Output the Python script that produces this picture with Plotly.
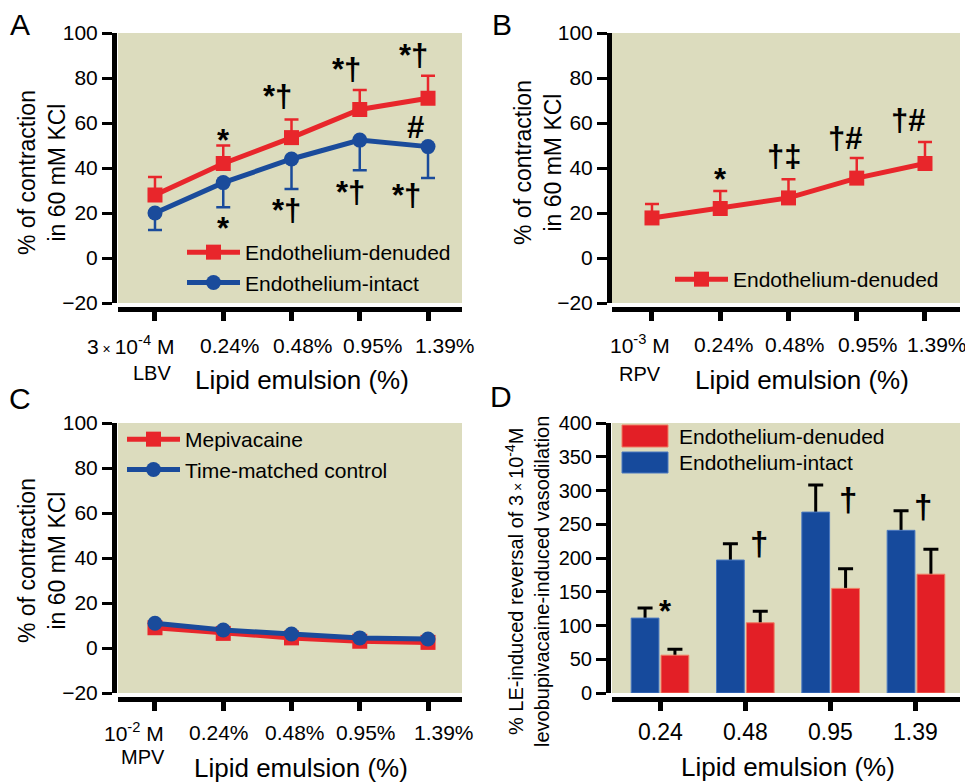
import plotly.graph_objects as go

W, H = 973, 782
OFF = 8  # page margin around the plot div
FONT = "Liberation Sans, Arial, sans-serif"
RED = "#e8262b"
BLUE = "#1a4b9b"
BG = "#dcdcbe"

# ---------------- data ----------------
A_cats = ["LBV 3x10-4 M", "0.24%", "0.48%", "0.95%", "1.39%"]
A_labels = ["3<span style='font-size:14px'> × </span>10<sup>-4</sup> M", "0.24%", "0.48%", "0.95%", "1.39%"]
A_denuded = [28, 42, 53.5, 66, 71]
A_denuded_err = [8, 8, 8, 8.7, 10]
A_intact = [20, 33.5, 44, 52.4, 49.5]
A_intact_err = [7.6, 11, 13.3, 13.4, 14]

B_cats = ["RPV 10-3 M", "0.24%", "0.48%", "0.95%", "1.39%"]
B_labels = ["10<sup>-3</sup> M", "0.24%", "0.48%", "0.95%", "1.39%"]
B_denuded = [17.8, 22, 26.7, 35.5, 42]
B_denuded_err = [6.2, 7.8, 8.3, 8.9, 9.5]

C_cats = ["MPV 10-2 M", "0.24%", "0.48%", "0.95%", "1.39%"]
C_labels = ["10<sup>-2</sup> M", "0.24%", "0.48%", "0.95%", "1.39%"]
C_mepivacaine = [9, 6.5, 4.5, 3.0, 2.5]
C_control = [11, 8, 6.2, 4.5, 4]

D_cats = ["0.24", "0.48", "0.95", "1.39"]
D_intact = [111, 197, 268, 241]
D_intact_err = [15, 24, 40, 29]
D_denuded = [56, 104, 155, 176]
D_denuded_err = [9, 17, 29, 37]

# significance marks: (text, category index, y)
A_marks = [("*", 1.0, 52.4), ("*†", 1.80, 71.6), ("*†", 2.81, 83.6), ("*†", 3.79, 90.2),
           ("#", 3.81, 57.8), ("*", 1.0, 13.3), ("*†", 1.92, 20.9), ("*†", 2.86, 29.3),
           ("*†", 3.69, 28.0)]
B_marks = [("*", 1.0, 34.7), ("†‡", 1.93, 44.9), ("†#", 2.83, 52.9), ("†#", 3.75, 60.9)]
D_marks = [("*", 0.07, 121), ("†", 1.16, 221), ("†", 2.2, 286), ("†", 3.08, 277)]


def fx(px):
    return (px - OFF) / W


def fy(py):
    return 1 - (py - OFF) / H


fig = go.Figure()

zero = [0] * 5


def line_trace(x, y, err, color, symbol, name, xa, ya, legend, up=True):
    return go.Scatter(
        x=x, y=y, name=name, mode="lines+markers", xaxis=xa, yaxis=ya, legend=legend,
        line=dict(color=color, width=5),
        marker=dict(color=color, size=15, symbol=symbol),
        error_y=dict(type="data", symmetric=False,
                     array=err if up else zero, arrayminus=zero if up else err,
                     color=color, thickness=2.5, width=7),
    )


fig.add_trace(line_trace(A_cats, A_denuded, A_denuded_err, RED, "square", "Endothelium-denuded", "x", "y", "legend", True))
fig.add_trace(line_trace(A_cats, A_intact, A_intact_err, BLUE, "circle", "Endothelium-intact", "x", "y", "legend", False))
fig.add_trace(line_trace(B_cats, B_denuded, B_denuded_err, RED, "square", "Endothelium-denuded", "x2", "y2", "legend2", True))
fig.add_trace(go.Scatter(x=C_cats, y=C_mepivacaine, name="Mepivacaine", mode="lines+markers", xaxis="x3", yaxis="y3",
                         legend="legend3", line=dict(color=RED, width=5), marker=dict(color=RED, size=15, symbol="square")))
fig.add_trace(go.Scatter(x=C_cats, y=C_control, name="Time-matched control", mode="lines+markers", xaxis="x3", yaxis="y3",
                         legend="legend3", line=dict(color=BLUE, width=5), marker=dict(color=BLUE, size=15, symbol="circle")))

# Panel D: error carriers first (symmetric, lower half hidden by visible bars drawn afterwards)
for vals, errs, grp in [(D_intact, D_intact_err, "intact"), (D_denuded, D_denuded_err, "denuded")]:
    fig.add_trace(go.Bar(x=D_cats, y=vals, offsetgroup=grp, xaxis="x4", yaxis="y4", showlegend=False,
                         marker=dict(color="rgba(0,0,0,0)", line=dict(width=0)),
                         error_y=dict(type="data", array=errs, symmetric=True, color="black", thickness=3, width=7.5)))
fig.add_trace(go.Bar(x=D_cats, y=D_intact, offsetgroup="intact", name="Endothelium-intact", xaxis="x4", yaxis="y4",
                     showlegend=False, marker=dict(color="#164a9c", line=dict(color="#4a78c0", width=1))))
fig.add_trace(go.Bar(x=D_cats, y=D_denuded, offsetgroup="denuded", name="Endothelium-denuded", xaxis="x4", yaxis="y4",
                     showlegend=False, marker=dict(color="#e31f26", line=dict(color="#f07a60", width=1))))

# ---------------- axes ----------------
panels = {
    # name: (xdom px, ydom px, yaxis line x, xaxis line y, xrange, yrange, dtick)
    "1": ((118, 462), (33, 303), 114, 309, [-0.542, 4.498], [-20, 100], 20),
    "2": ((612, 960), (33, 303), 609, 309, [-0.586, 4.513], [-20, 100], 20),
    "3": ((118, 462), (423, 693), 114, 699, [-0.542, 4.498], [-20, 100], 20),
    "4": ((612, 960), (423, 693), 608, 699, [-0.5625, 3.516], [0, 400], 50),
}
layout_axes = {}
for k, (xd, yd, yl, xl, xr, yr, dt) in panels.items():
    sfx = "" if k == "1" else k
    layout_axes["xaxis" + sfx] = dict(
        domain=[fx(xd[0]), fx(xd[1])], anchor="free", position=fy(xl), range=xr, type="category",
        showline=True, linewidth=5, linecolor="black", ticks="outside", ticklen=9, tickwidth=5,
        tickcolor="black", showticklabels=False, showgrid=False, zeroline=False, fixedrange=True,
        automargin=False)
    layout_axes["yaxis" + sfx] = dict(
        domain=[fy(yd[1]), fy(yd[0])], anchor="free", position=fx(yl), range=yr, dtick=dt, tick0=yr[0],
        showline=True, linewidth=5, linecolor="black", ticks="outside", ticklen=10, tickwidth=3,
        tickcolor="black", tickfont=dict(size=21 if k != "4" else 20, color="black", family=FONT),
        showgrid=False, zeroline=False, fixedrange=True, automargin=False)

annotations = []


def ann(text, x, y, size, xref="paper", yref="paper", **kw):
    d = dict(text=text, x=x, y=y, xref=xref, yref=yref, showarrow=False,
             xanchor="center", yanchor="middle",
             font=dict(size=size, color="black", family=FONT))
    d.update(kw)
    annotations.append(d)


# panel letters
for letter, px, py in [("A", 20, 24), ("B", 502, 24), ("C", 20, 398), ("D", 501, 396)]:
    ann(letter, fx(px), fy(py), 30)

# y titles
ann("% of contraction<br>in 60 mM KCl", fx(42), fy(173), 23, textangle=-90)
ann("% of contraction<br>in 60 mM KCl", fx(538), fy(163), 23, textangle=-90)
ann("% of contraction<br>in 60 mM KCl", fx(42), fy(561), 23, textangle=-90)
ann("% LE-induced reversal of 3<span style='font-size:14px'> × </span>10<sup>-4</sup>M<br>levobupivacaine-induced vasodilation",
    fx(527), fy(582), 20, textangle=-90)

# x titles
ann("Lipid emulsion (%)", fx(302), fy(380), 26)
ann("Lipid emulsion (%)", fx(802), fy(380), 26)
ann("Lipid emulsion (%)", fx(301), fy(768), 26)
ann("Lipid emulsion (%)", fx(788), fy(767), 26)

# tick labels (annotations so they can sit off-centre as in the original)
for labels, xa, shifts, py in [
    (A_labels, "x", [-24, 7, 11, 13, 17], 345),
    (B_labels, "x2", [-12, 4, 7, 11, 12], 344),
    (C_labels, "x3", [-21, -4, 3, 6, 16], 732),
]:
    for i, t in enumerate(labels):
        ann(t, i, fy(py), 21, xref=xa, xshift=shifts[i])
for i, t in enumerate(D_cats):
    ann(t, i, fy(732), 23, xref="x4")
ann("LBV", fx(152), fy(373), 20)
ann("RPV", fx(640), fy(374), 20)
ann("MPV", fx(143), fy(757), 20)

# significance marks
for t, x, y in A_marks:
    ann("<b>" + t + "</b>", x, y, 31, xref="x", yref="y")
for t, x, y in B_marks:
    ann("<b>" + t + "</b>", x, y, 31, xref="x2", yref="y2")
for t, x, y in D_marks:
    ann("<b>" + t + "</b>", x, y, 33 if t != "*" else 31, xref="x4", yref="y4")

# Panel D legend (large swatches as in the original)
shapes = []
for (y0, y1, col, edge, name) in [(425, 447, "#e31f26", "#f07a60", "Endothelium-denuded"),
                                  (452, 473, "#164a9c", "#4a78c0", "Endothelium-intact")]:
    shapes.append(dict(type="rect", xref="paper", yref="paper", x0=fx(622), x1=fx(668), y0=fy(y1), y1=fy(y0),
                       fillcolor=col, line=dict(color=edge, width=1), layer="above"))
    ann(name, fx(677), fy((y0 + y1) / 2), 21, xanchor="left")

leg_common = dict(bgcolor="rgba(0,0,0,0)", font=dict(size=21, color="black", family=FONT),
                  tracegroupgap=0, xanchor="left", yanchor="top", itemclick=False, itemdoubleclick=False,
                  borderwidth=0, itemwidth=53)

fig.update_layout(
    template="none",
    width=W, height=H, margin=dict(l=0, r=0, t=0, b=0, pad=0), autosize=False,
    paper_bgcolor="white", plot_bgcolor=BG,
    font=dict(family=FONT, color="black"),
    barmode="group", bargap=0.3, bargroupgap=0.07,
    legend=dict(x=fx(182), y=fy(232), **leg_common),
    legend2=dict(x=fx(670), y=fy(259), **leg_common),
    legend3=dict(x=fx(122), y=fy(419), **leg_common),
    annotations=annotations, shapes=shapes,
    **layout_axes,
)

fig.write_html("out.html")
